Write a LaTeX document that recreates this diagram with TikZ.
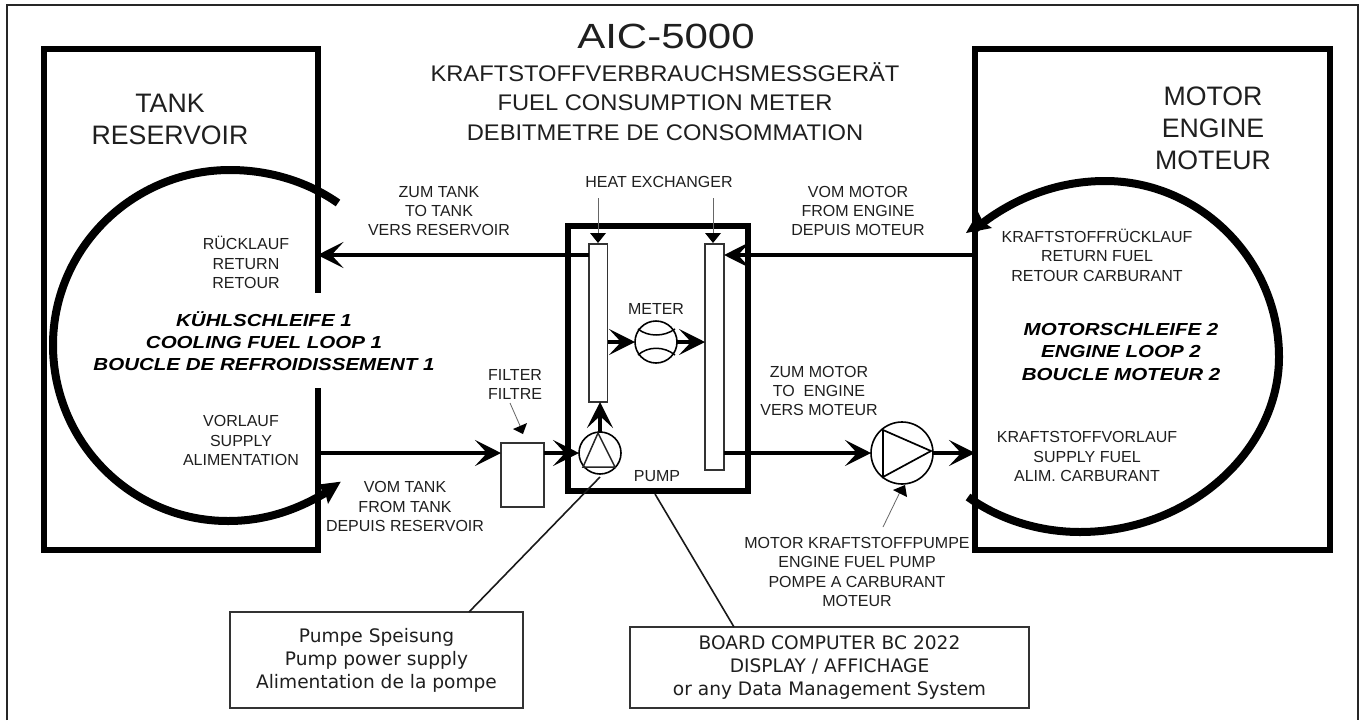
\documentclass[tikz,border=0pt]{standalone}
\usepackage{fontspec}
\setmainfont{Liberation Sans}
\newfontfamily\notefam{DejaVu Sans}
\newfontfamily\loopfam{Liberation Sans}[FakeStretch=1.18]
\newfontfamily\titlefam{Liberation Sans}[FakeStretch=1.2]
\newfontfamily\midfam{Liberation Sans}[FakeStretch=1.05]
\usetikzlibrary{arrows.meta}
\tikzset{
  heavybox/.style={draw=black,line width=6pt,fill=none,inner sep=0pt,outer sep=0pt},
  thinbox/.style={draw=black!80,line width=1.6pt,fill=white,inner sep=0pt,outer sep=0pt},
  note/.style={draw=black!80,line width=1.4pt,fill=white,inner sep=0pt,outer sep=0pt,align=center,text=black!88},
  lab/.style={align=center,inner sep=0pt,text=black!88},
  big/.style={lab,font=\fontsize{26.7}{32}\selectfont},
  mid/.style={lab,font=\midfam\fontsize{22.6}{29.2}\selectfont},
  small/.style={lab,font=\fontsize{16}{19.4}\selectfont},
  notefont/.style={font=\notefam\fontsize{18.6}{23}\selectfont},
  loop/.style={lab,text=black,font=\loopfam\fontsize{17.4}{22.2}\selectfont\bfseries\itshape},
  flow/.style={line width=4pt,draw=black,-{Stealth[length=26pt,width=26pt,inset=12pt]}},
  loopline/.style={line width=8pt,draw=black},
  pointer/.style={line width=0.8pt,draw=black!60},
  lead/.style={line width=1.6pt,draw=black!90},
  sym/.style={draw=black,line width=1.6pt,fill=white,circle,inner sep=0pt,outer sep=0pt},
  head/.style={fill=black,draw=none}
}
\begin{document}
\begin{tikzpicture}[x=1pt,y=-1pt]
\useasboundingbox (0,0) rectangle (1364,720);
\fill[white] (0,0) rectangle (1364,720);
\coordinate (fa) at (7,720);
\coordinate (fb) at (7,5);
\coordinate (fc) at (1358,5);
\coordinate (fd) at (1358,720);
\draw[draw=black!85,line width=1.5pt] (fa) -- (fb) -- (fc) -- (fd);

% tank and engine
\node[heavybox,minimum width=273.5pt,minimum height=501pt] (tank) at (180.75,299.5) {};
\node[heavybox,minimum width=355pt,minimum height=501pt] (engine) at (1152.5,299.5) {};

% central unit
\node[heavybox,minimum width=180pt,minimum height=265pt] (unit) at (658,358.5) {};
\node[thinbox,minimum width=18.7pt,minimum height=158pt] (hxa) at (598.3,323) {};
\node[thinbox,minimum width=19pt,minimum height=226pt] (hxb) at (714.5,357) {};
\node[thinbox,minimum width=43pt,minimum height=64pt] (filter) at (522.5,475) {};
\node[sym,minimum size=42pt] (meter) at (656,342) {};
\node[sym,minimum size=42pt] (pump) at (600,453) {};
\node[sym,minimum size=62pt] (epump) at (902,453) {};

% cooling loop
\fill[white] (60,293) rectangle (325,388);
\coordinate (las) at (338,203);
\coordinate (lae) at (330,490);
\draw[loopline] (las) .. controls (308,182) and (270,170) .. (230,170)
  .. controls (133,170) and (53,248) .. (53,345)
  .. controls (53,442) and (131,521) .. (228,521)
  .. controls (265,521) and (298,510) .. (lae);
\fill[head] (340.7,481.7) -- (328,504) -- (325,492) -- (315,485) -- cycle;

% engine loop
\coordinate (ras) at (968,497);
\coordinate (rae) at (975,229);
\draw[loopline] (ras) .. controls (1000,520) and (1040,532) .. (1080,532)
  .. controls (1190,532) and (1279,450) .. (1279,357)
  .. controls (1279,260) and (1200,181) .. (1105,181)
  .. controls (1055,181) and (1010,200) .. (rae);
\fill[head] (966,233) -- (978,212) -- (983,222) -- (992,228) -- cycle;

% flow lines
\draw[flow] (hxa.west |- 0,255) -- (tank.east |- 0,255);
\draw[flow] (engine.west |- 0,255) -- (hxb.east |- 0,255);
\draw[flow] (tank.east |- 0,453) -- (filter.west |- 0,453);
\draw[flow] (filter.east |- 0,453) -- (pump.west);
\draw[flow] (pump.north) -- (pump.north |- hxa.south);
\draw[flow] (hxa.east |- meter.west) -- (meter.west);
\draw[flow] (meter.east) -- (hxb.west |- meter.east);
\draw[flow] (hxb.east |- epump.west) -- (epump.west);
\draw[flow] (epump.east) -- (engine.west |- epump.east);

% symbol interiors
\draw[line width=1.5pt] (638,329) .. controls (648,337) and (664,337) .. (675,329);
\draw[line width=1.5pt] (638,355) .. controls (648,346) and (664,346) .. (675,355);
\draw[line width=1.5pt,draw=black!85] (598,433) -- (583,467) -- (615,467) -- cycle;
\draw[line width=1.7pt] (883,430) -- (883,477) -- (931,451) -- cycle;

% pointers
\coordinate (hxap) at (598,198);
\coordinate (hxbp) at (713,198);
\draw[pointer] (hxap) -- (598,235);
\draw[pointer] (hxbp) -- (713,235);
\fill[head] (590,233) -- (606,233) -- (598,243) -- cycle;
\fill[head] (705,233) -- (721,233) -- (713,243) -- cycle;
\coordinate (fp) at (510,403);
\draw[pointer] (fp) -- (521,428);
\fill[head] (513,429) -- (527,423) -- (523,434) -- cycle;
\coordinate (ep) at (883,527);
\draw[pointer] (ep) -- (900,492);
\fill[head] (905,485) -- (893,490) -- (907,497) -- cycle;

% note boxes
\node[note,notefont,minimum width=293pt,minimum height=96pt] (pnote) at (376.5,660) {Pumpe Speisung\\Pump power supply\\Alimentation de la pompe};
\node[note,notefont,minimum width=399pt,minimum height=81pt] (bnote) at (829.5,667.5) {BOARD COMPUTER BC 2022\\DISPLAY / AFFICHAGE\\or any Data Management System};
\draw[lead] (600,477) -- (pnote.north -| 469,0);
\draw[lead] (655,494) -- (bnote.north -| 734,0);

% titles
\node[lab,font=\titlefam\fontsize{35}{42}\selectfont] (title) at (666,36) {AIC-5000};
\node[mid] (sub) at (665,101.5) {KRAFTSTOFFVERBRAUCHSMESSGERÄT\\FUEL CONSUMPTION METER\\DEBITMETRE DE CONSOMMATION};
\node[big] (tanklab) at (170,119) {TANK\\RESERVOIR};
\node[big] (enginelab) at (1213,128) {MOTOR\\ENGINE\\MOTEUR};

% small labels
\node[small] (l1) at (439,211) {ZUM TANK\\TO TANK\\VERS RESERVOIR};
\node[small] (l2) at (246,262.5) {RÜCKLAUF\\RETURN\\RETOUR};
\node[small] (l3) at (241,440.5) {VORLAUF\\SUPPLY\\ALIMENTATION};
\node[small] (l4) at (405,506.5) {VOM TANK\\FROM TANK\\DEPUIS RESERVOIR};
\node[small] (l5) at (515,384.5) {FILTER\\FILTRE};
\node[small] (l6) at (659,182) {HEAT EXCHANGER};
\node[small] (l7) at (858,211) {VOM MOTOR\\FROM ENGINE\\DEPUIS MOTEUR};
\node[small] (l8) at (656,309) {METER};
\node[small] (l9) at (819,391) {ZUM MOTOR\\TO~~ENGINE\\VERS MOTEUR};
\node[small] (l10) at (657,476) {PUMP};
\node[small] (l11) at (857,572) {MOTOR KRAFTSTOFFPUMPE\\ENGINE FUEL PUMP\\POMPE A CARBURANT\\MOTEUR};
\node[small] (l12) at (1097,255) {KRAFTSTOFFRÜCKLAUF\\RETURN FUEL\\RETOUR CARBURANT};
\node[small] (l13) at (1087,456.5) {KRAFTSTOFFVORLAUF\\SUPPLY FUEL\\ALIM. CARBURANT};
\node[loop] (k1) at (264,341) {KÜHLSCHLEIFE 1\\COOLING FUEL LOOP 1\\BOUCLE DE REFROIDISSEMENT 1};
\node[loop] (k2) at (1121,352) {MOTORSCHLEIFE 2\\ENGINE LOOP 2\\BOUCLE MOTEUR 2};
\end{tikzpicture}
\end{document}
